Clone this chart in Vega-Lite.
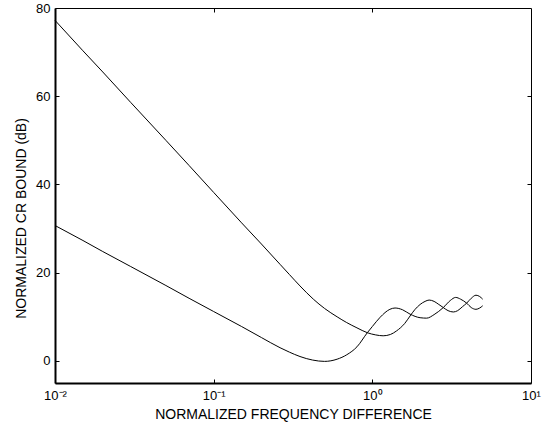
{
  "$schema": "https://vega.github.io/schema/vega-lite/v6.json",
  "width": 476,
  "height": 375,
  "autosize": {"type": "none"},
  "padding": {"left": 55, "top": 8, "right": 23, "bottom": 53},
  "background": "white",
  "config": {
    "view": {"stroke": null},
    "axis": {"labelFont": "Liberation Sans", "titleFont": "Liberation Sans", "labelColor": "black", "titleColor": "black", "titleFontWeight": "normal", "domainColor": "black", "tickColor": "black", "grid": false}
  },
  "datasets": {
    "curves": [
      {"f": 0.01, "db": 77.2, "curve": "A"},
      {"f": 0.015, "db": 70.3, "curve": "A"},
      {"f": 0.02, "db": 65.5, "curve": "A"},
      {"f": 0.03, "db": 58.6, "curve": "A"},
      {"f": 0.05, "db": 50.0, "curve": "A"},
      {"f": 0.07, "db": 44.3, "curve": "A"},
      {"f": 0.1, "db": 38.2, "curve": "A"},
      {"f": 0.15, "db": 31.3, "curve": "A"},
      {"f": 0.2, "db": 26.5, "curve": "A"},
      {"f": 0.262, "db": 21.9, "curve": "A"},
      {"f": 0.3, "db": 19.6, "curve": "A"},
      {"f": 0.35, "db": 17.0, "curve": "A"},
      {"f": 0.425, "db": 14.0, "curve": "A"},
      {"f": 0.5, "db": 11.9, "curve": "A"},
      {"f": 0.6, "db": 10.0, "curve": "A"},
      {"f": 0.689, "db": 8.7, "curve": "A"},
      {"f": 0.8, "db": 7.5, "curve": "A"},
      {"f": 0.93, "db": 6.4, "curve": "A"},
      {"f": 1.05, "db": 5.9, "curve": "A"},
      {"f": 1.17, "db": 5.7, "curve": "A"},
      {"f": 1.3, "db": 6.0, "curve": "A"},
      {"f": 1.42, "db": 6.8, "curve": "A"},
      {"f": 1.6, "db": 8.5, "curve": "A"},
      {"f": 1.73, "db": 10.2, "curve": "A"},
      {"f": 1.85, "db": 11.6, "curve": "A"},
      {"f": 2.0, "db": 12.8, "curve": "A"},
      {"f": 2.15, "db": 13.5, "curve": "A"},
      {"f": 2.28, "db": 13.8, "curve": "A"},
      {"f": 2.45, "db": 13.5, "curve": "A"},
      {"f": 2.6, "db": 12.9, "curve": "A"},
      {"f": 2.8, "db": 12.1, "curve": "A"},
      {"f": 3.0, "db": 11.4, "curve": "A"},
      {"f": 3.24, "db": 11.1, "curve": "A"},
      {"f": 3.45, "db": 11.4, "curve": "A"},
      {"f": 3.7, "db": 12.3, "curve": "A"},
      {"f": 3.93, "db": 13.1, "curve": "A"},
      {"f": 4.2, "db": 14.2, "curve": "A"},
      {"f": 4.5, "db": 14.9, "curve": "A"},
      {"f": 4.75, "db": 14.6, "curve": "A"},
      {"f": 4.96, "db": 14.0, "curve": "A"},
      {"f": 0.01, "db": 30.7, "curve": "B"},
      {"f": 0.015, "db": 27.3, "curve": "B"},
      {"f": 0.02, "db": 24.8, "curve": "B"},
      {"f": 0.03, "db": 21.4, "curve": "B"},
      {"f": 0.05, "db": 17.1, "curve": "B"},
      {"f": 0.07, "db": 14.2, "curve": "B"},
      {"f": 0.1, "db": 11.2, "curve": "B"},
      {"f": 0.15, "db": 7.8, "curve": "B"},
      {"f": 0.2, "db": 5.3, "curve": "B"},
      {"f": 0.262, "db": 3.0, "curve": "B"},
      {"f": 0.3, "db": 2.0, "curve": "B"},
      {"f": 0.35, "db": 1.0, "curve": "B"},
      {"f": 0.42, "db": 0.2, "curve": "B"},
      {"f": 0.5, "db": -0.1, "curve": "B"},
      {"f": 0.6, "db": 0.4, "curve": "B"},
      {"f": 0.69, "db": 1.4, "curve": "B"},
      {"f": 0.8, "db": 3.2, "curve": "B"},
      {"f": 0.93, "db": 6.4, "curve": "B"},
      {"f": 1.0, "db": 7.8, "curve": "B"},
      {"f": 1.12, "db": 9.9, "curve": "B"},
      {"f": 1.29, "db": 11.7, "curve": "B"},
      {"f": 1.39, "db": 12.0, "curve": "B"},
      {"f": 1.55, "db": 11.6, "curve": "B"},
      {"f": 1.73, "db": 10.6, "curve": "B"},
      {"f": 2.0, "db": 9.8, "curve": "B"},
      {"f": 2.2, "db": 9.7, "curve": "B"},
      {"f": 2.45, "db": 10.5, "curve": "B"},
      {"f": 2.8, "db": 12.1, "curve": "B"},
      {"f": 3.1, "db": 13.7, "curve": "B"},
      {"f": 3.35, "db": 14.4, "curve": "B"},
      {"f": 3.6, "db": 14.0, "curve": "B"},
      {"f": 3.93, "db": 13.1, "curve": "B"},
      {"f": 4.2, "db": 12.1, "curve": "B"},
      {"f": 4.5, "db": 11.7, "curve": "B"},
      {"f": 4.75, "db": 12.0, "curve": "B"},
      {"f": 4.96, "db": 12.5, "curve": "B"}
    ]
  },
  "data": {"name": "curves"},
  "layer": [
    {
      "transform": [{"filter": "datum.curve == 'A'"}],
      "mark": {"type": "line", "color": "black", "strokeWidth": 1, "interpolate": "monotone"},
      "encoding": {
        "x": {
          "field": "f", "type": "quantitative",
          "scale": {"type": "log", "domain": [0.01, 10], "nice": false},
          "axis": {
            "orient": "bottom", "values": [0.01, 0.1, 1, 10],
            "labelExpr": "datum.value < 0.05 ? '10⁻²' : datum.value < 0.5 ? '10⁻¹' : datum.value < 5 ? '10⁰' : '10¹'",
            "labelFontSize": 13, "labelPadding": 10, "tickSize": -4, "domainWidth": 2,
            "labelFlush": false, "labelOverlap": false,
            "title": "NORMALIZED FREQUENCY DIFFERENCE", "titleFontSize": 14, "titlePadding": 5
          }
        },
        "y": {
          "field": "db", "type": "quantitative",
          "scale": {"domain": [-5, 80], "nice": false, "zero": false},
          "axis": {
            "orient": "left", "values": [0, 20, 40, 60, 80],
            "labelFontSize": 13, "labelPadding": 9, "tickSize": -4, "domainWidth": 2,
            "labelFlush": false, "labelOverlap": false,
            "title": "NORMALIZED CR BOUND (dB)", "titleFontSize": 14, "titlePadding": 7, "titleY": 210
          }
        }
      }
    },
    {
      "transform": [{"filter": "datum.curve == 'B'"}],
      "mark": {"type": "line", "color": "black", "strokeWidth": 1, "interpolate": "monotone"},
      "encoding": {
        "x": {
          "field": "f", "type": "quantitative",
          "scale": {"type": "log", "domain": [0.01, 10], "nice": false},
          "axis": {"orient": "top", "values": [0.1, 1], "labels": false, "tickSize": -4, "domainWidth": 1, "title": null}
        },
        "y": {
          "field": "db", "type": "quantitative",
          "scale": {"domain": [-5, 80], "nice": false, "zero": false},
          "axis": {"orient": "right", "values": [0, 20, 40, 60], "labels": false, "tickSize": -4, "domainWidth": 1, "title": null}
        }
      }
    }
  ],
  "resolve": {"axis": {"x": "independent", "y": "independent"}}
}
